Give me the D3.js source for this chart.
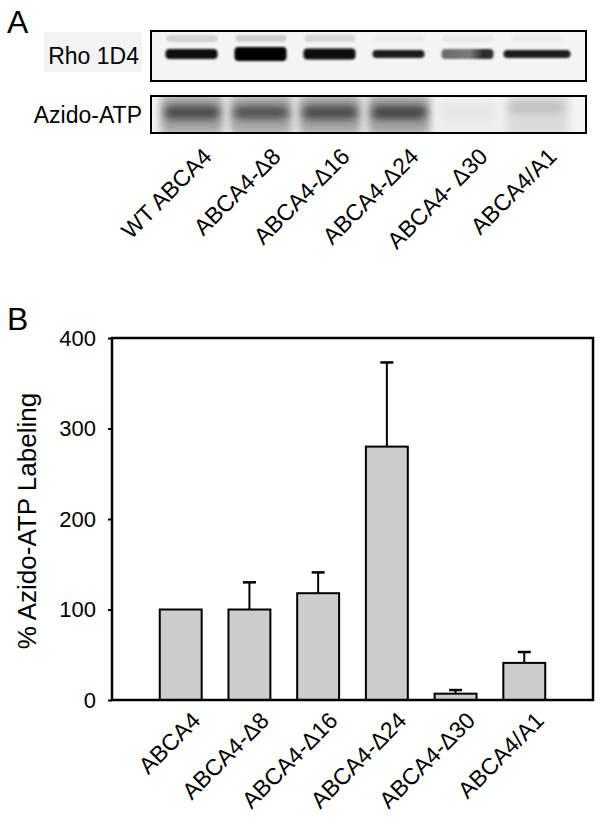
<!DOCTYPE html>
<html>
<head>
<meta charset="utf-8">
<script src="https://cdn.jsdelivr.net/npm/d3@7"></script>
<style>
  html, body { margin: 0; padding: 0; background: #fff; }
  svg { display: block; }
  text { font-family: "Liberation Sans", Arial, sans-serif; fill: #000; }
</style>
</head>
<body>
<div id="chart"></div>
<script>
// ---------- data ----------
const laneLabels = ["WT ABCA4", "ABCA4-\u03948", "ABCA4-\u039416", "ABCA4-\u039424", "ABCA4- \u039430", "ABCA4/A1"];
const rhoIntensity = [0.95, 1.0, 0.95, 0.88, 0.62, 0.88];   // band darkness (0..1)
const rhoThickness = [10, 14, 11, 8, 10, 8];                  // band height
const rhoUpperIntensity = [0.14, 0.16, 0.12, 0.04, 0.05, 0.04];
const azidoIntensity = [0.72, 0.68, 0.72, 0.74, 0.06, 0.24];

const categories = ["ABCA4", "ABCA4-\u03948", "ABCA4-\u039416", "ABCA4-\u039424", "ABCA4-\u039430", "ABCA4/A1"];
const values = [100, 100, 118, 280, 7, 41];
const errors = [0, 30, 23, 93, 4, 12];
const yTicks = [0, 100, 200, 300, 400];
const yLabel = "% Azido-ATP Labeling";

// ---------- svg ----------
const W = 604, H = 825;
const svg = d3.select("#chart").append("svg").attr("width", W).attr("height", H);
const defs = svg.append("defs");
defs.append("filter").attr("id", "blur1").attr("x", "-30%").attr("y", "-80%").attr("width", "160%").attr("height", "260%")
  .append("feGaussianBlur").attr("stdDeviation", 1.2);
defs.append("filter").attr("id", "blur3").attr("x", "-30%").attr("y", "-60%").attr("width", "160%").attr("height", "220%")
  .append("feGaussianBlur").attr("stdDeviation", 4);
defs.append("clipPath").attr("id", "clipRho").append("rect").attr("x", 151).attr("y", 31).attr("width", 435).attr("height", 50);
defs.append("clipPath").attr("id", "clipAz").append("rect").attr("x", 151).attr("y", 96).attr("width", 435).attr("height", 37);
const gr = defs.append("linearGradient").attr("id", "mottle").attr("x1", 0).attr("x2", 1).attr("y1", 0).attr("y2", 0);
gr.append("stop").attr("offset", "0%").attr("stop-color", "#6a6a6a");
gr.append("stop").attr("offset", "55%").attr("stop-color", "#7a7a7a");
gr.append("stop").attr("offset", "80%").attr("stop-color", "#2a2a2a");
gr.append("stop").attr("offset", "100%").attr("stop-color", "#333");

// ---------- Panel A ----------
svg.append("text").attr("x", 7).attr("y", 33).attr("font-size", 32).text("A");

const lane = d3.scaleBand().domain(laneLabels).range([158.5, 572.5]).padding(0);
const shade = d3.scaleLinear().domain([0, 1]).range(["#f4f4f4", "#000000"]);

// Rho label with light background
svg.append("rect").attr("x", 44).attr("y", 32).attr("width", 98).attr("height", 40).attr("fill", "#f3f3f3");
svg.append("text").attr("x", 139).attr("y", 64).attr("text-anchor", "end").attr("font-size", 23).text("Rho 1D4");
svg.append("text").attr("x", 142).attr("y", 123).attr("text-anchor", "end").attr("font-size", 23).text("Azido-ATP");

// Rho blot
const rhoG = svg.append("g").attr("clip-path", "url(#clipRho)");
rhoG.append("rect").attr("x", 151).attr("y", 31).attr("width", 435).attr("height", 50).attr("fill", "#f4f4f4");
rhoG.selectAll(".upper").data(laneLabels).join("rect")
  .attr("x", d => lane(d) + 8).attr("y", 35).attr("width", lane.bandwidth() - 18).attr("height", 7)
  .attr("rx", 3).attr("fill", (d, i) => shade(rhoUpperIntensity[i])).attr("filter", "url(#blur1)");
rhoG.selectAll(".band").data(laneLabels).join("rect")
  .attr("x", (d, i) => lane(d) + (i === 5 ? 0 : 7))
  .attr("y", (d, i) => 54 - rhoThickness[i] / 2)
  .attr("width", (d, i) => i === 5 ? lane.bandwidth() - 2 : lane.bandwidth() - 17)
  .attr("height", (d, i) => rhoThickness[i])
  .attr("rx", 4)
  .attr("fill", (d, i) => i === 4 ? "url(#mottle)" : shade(rhoIntensity[i]))
  .attr("filter", "url(#blur1)");
svg.append("rect").attr("x", 151).attr("y", 31).attr("width", 435).attr("height", 50)
  .attr("fill", "none").attr("stroke", "#000").attr("stroke-width", 2);

// Azido blot
const azG = svg.append("g").attr("clip-path", "url(#clipAz)");
azG.append("rect").attr("x", 151).attr("y", 96).attr("width", 435).attr("height", 37).attr("fill", "#f4f4f4");
azG.selectAll(".halo").data(laneLabels).join("rect")
  .attr("x", d => lane(d) + 2).attr("y", 95).attr("width", lane.bandwidth() - 6).attr("height", 40)
  .attr("rx", 6).attr("fill", (d, i) => shade(azidoIntensity[i] * 0.45)).attr("filter", "url(#blur3)");
azG.selectAll(".core").data(laneLabels).join("rect")
  .attr("x", d => lane(d) + 6).attr("y", (d, i) => i === 5 ? 103 : 106)
  .attr("width", lane.bandwidth() - 14).attr("height", (d, i) => i === 5 ? 9 : 13)
  .attr("rx", 6).attr("fill", (d, i) => shade(azidoIntensity[i])).attr("filter", "url(#blur3)");
svg.append("rect").attr("x", 151).attr("y", 96).attr("width", 435).attr("height", 37)
  .attr("fill", "none").attr("stroke", "#000").attr("stroke-width", 2);

// Lane labels
svg.selectAll(".laneLabel").data(laneLabels).join("text")
  .attr("transform", d => `translate(${lane(d) + lane.bandwidth() / 2 + 20},158) rotate(-45)`)
  .attr("text-anchor", "end").attr("font-size", 23).text(d => d);

// ---------- Panel B ----------
svg.append("text").attr("x", 7).attr("y", 330).attr("font-size", 32).text("B");

const x0 = 112, x1 = 593, yTop = 338, yBot = 700;
const x = d3.scaleBand().domain(categories).range([x0, x1]).paddingInner(0.39).paddingOuter(0.695);
const y = d3.scaleLinear().domain([0, 400]).range([yBot, yTop]);

// y axis ticks & labels
const yAxis = d3.axisLeft(y).tickValues(yTicks).tickSize(4).tickPadding(12).tickFormat(d3.format("d"));
const yg = svg.append("g").attr("transform", `translate(${x0},0)`).call(yAxis);
yg.select(".domain").remove();
yg.selectAll(".tick line").attr("stroke", "#000").attr("stroke-width", 2);
yg.selectAll(".tick text").attr("font-size", 22).attr("font-family", "Liberation Sans, Arial, sans-serif").attr("fill", "#000");

// bars
svg.selectAll(".bar").data(categories).join("rect")
  .attr("x", d => x(d)).attr("y", (d, i) => y(values[i]))
  .attr("width", x.bandwidth()).attr("height", (d, i) => y(0) - y(values[i]))
  .attr("fill", "#cccccc").attr("stroke", "#000").attr("stroke-width", 2);

// error bars
const eb = svg.selectAll(".err").data(categories.filter((d, i) => errors[i] > 0)).join("g");
eb.append("line")
  .attr("x1", d => x(d) + x.bandwidth() / 2).attr("x2", d => x(d) + x.bandwidth() / 2)
  .attr("y1", d => y(values[categories.indexOf(d)]))
  .attr("y2", d => y(values[categories.indexOf(d)] + errors[categories.indexOf(d)]))
  .attr("stroke", "#000").attr("stroke-width", 2);
eb.append("line")
  .attr("x1", d => x(d) + x.bandwidth() / 2 - 6.5).attr("x2", d => x(d) + x.bandwidth() / 2 + 6.5)
  .attr("y1", d => y(values[categories.indexOf(d)] + errors[categories.indexOf(d)]))
  .attr("y2", d => y(values[categories.indexOf(d)] + errors[categories.indexOf(d)]))
  .attr("stroke", "#000").attr("stroke-width", 2.5);

// frame
svg.append("rect").attr("x", x0).attr("y", yTop).attr("width", x1 - x0).attr("height", yBot - yTop)
  .attr("fill", "none").attr("stroke", "#000").attr("stroke-width", 2.5);

// y label
svg.append("text").attr("transform", `translate(36,${(yTop + yBot) / 2 + 2}) rotate(-90)`)
  .attr("text-anchor", "middle").attr("font-size", 26).text(yLabel);

// x labels
svg.selectAll(".xLabel").data(categories).join("text")
  .attr("transform", d => `translate(${x(d) + x.bandwidth() / 2 + 21},722) rotate(-45)`)
  .attr("text-anchor", "end").attr("font-size", 23).text(d => d);
</script>
</body>
</html>
